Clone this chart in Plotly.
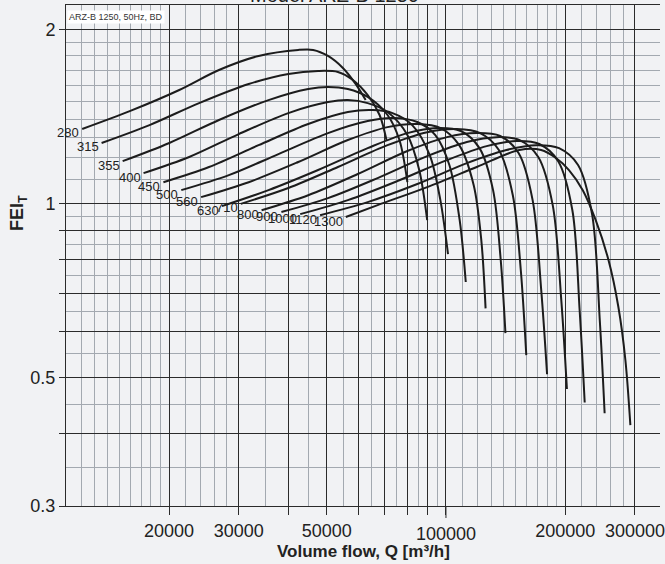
import numpy as np
import plotly.graph_objects as go

# curve labels (speed)
labels = ['280', '315', '355', '400', '450', '500', '560', '630', '710', '800', '900', '1000', '1120', '1300']

q_280 = [12070, 15910, 21220, 26730, 33650, 42380, 46210, 50380, 54930, 59200, 62700]
fei_280 = [1.346, 1.445, 1.572, 1.702, 1.800, 1.844, 1.844, 1.800, 1.716, 1.609, 1.510]

q_315 = [13510, 17850, 23810, 31770, 40000, 47560, 53370, 58200, 63450, 67990, 70770]
fei_315 = [1.273, 1.367, 1.492, 1.610, 1.676, 1.696, 1.689, 1.636, 1.541, 1.423, 1.288]

q_355 = [15270, 20030, 26730, 35650, 44900, 50380, 56540, 63450, 71200, 76300, 79910]
fei_355 = [1.184, 1.273, 1.395, 1.510, 1.578, 1.591, 1.578, 1.529, 1.423, 1.288, 1.089]

q_400 = [17240, 22480, 29990, 40000, 50380, 56540, 63450, 71200, 79910, 85610, 89660]
fei_400 = [1.129, 1.204, 1.319, 1.434, 1.498, 1.510, 1.492, 1.440, 1.314, 1.143, 0.936]

q_450 = [19350, 25220, 33650, 44900, 56540, 65300, 73290, 82200, 91000, 96800, 101200]
fei_450 = [1.089, 1.157, 1.262, 1.373, 1.440, 1.451, 1.434, 1.367, 1.213, 1.014, 0.818]

q_500 = [21470, 28310, 37770, 50380, 63450, 73290, 84660, 94000, 102000, 108300, 112200]
fei_500 = [1.055, 1.120, 1.218, 1.324, 1.389, 1.406, 1.384, 1.314, 1.166, 0.936, 0.732]

q_560 = [24090, 31770, 42380, 56540, 71200, 84660, 97000, 108000, 117500, 122800, 125900]
fei_560 = [1.026, 1.089, 1.180, 1.288, 1.356, 1.373, 1.351, 1.262, 1.076, 0.865, 0.659]

q_630 = [27200, 35650, 47560, 63450, 79910, 94950, 109000, 121500, 131500, 137500, 141300]
fei_630 = [0.990, 1.055, 1.143, 1.247, 1.324, 1.351, 1.335, 1.247, 1.055, 0.798, 0.597]

q_710 = [30340, 40000, 53370, 71200, 89660, 106500, 122000, 136000, 147500, 154500, 159500]
fei_710 = [0.999, 1.064, 1.157, 1.262, 1.329, 1.346, 1.324, 1.238, 1.034, 0.767, 0.547]

q_800 = [34240, 44900, 59890, 79910, 100600, 119600, 137000, 152500, 165500, 174000, 180000]
fei_800 = [0.974, 1.034, 1.125, 1.233, 1.303, 1.324, 1.309, 1.223, 1.014, 0.708, 0.507]

q_900 = [38420, 50380, 67220, 89660, 112900, 134200, 153500, 171000, 186000, 195500, 202000]
fei_900 = [0.967, 1.022, 1.107, 1.208, 1.278, 1.303, 1.288, 1.204, 0.994, 0.681, 0.478]

q_1000 = [42870, 56540, 75430, 100600, 126700, 150600, 172000, 192000, 208500, 217500, 224000]
fei_1000 = [0.959, 1.014, 1.094, 1.189, 1.257, 1.283, 1.268, 1.184, 0.974, 0.654, 0.453]

q_1120 = [48110, 63450, 84660, 112900, 142100, 169000, 193000, 215500, 234000, 244500, 251500]
fei_1120 = [0.955, 1.006, 1.081, 1.175, 1.238, 1.262, 1.247, 1.166, 0.955, 0.629, 0.434]

q_1300 = [55870, 67220, 89660, 119600, 153200, 173900, 189600, 204400, 221500, 238800, 257300, 272500, 283800, 292100]
fei_1300 = [0.948, 0.994, 1.068, 1.157, 1.238, 1.238, 1.199, 1.143, 1.055, 0.936, 0.798, 0.662, 0.536, 0.414]

curves = [(q_280, fei_280), (q_315, fei_315), (q_355, fei_355), (q_400, fei_400),
          (q_450, fei_450), (q_500, fei_500), (q_560, fei_560), (q_630, fei_630),
          (q_710, fei_710), (q_800, fei_800), (q_900, fei_900), (q_1000, fei_1000),
          (q_1120, fei_1120), (q_1300, fei_1300)]

# axis ticks
x_major = [20000, 30000, 40000, 50000, 60000, 70000, 80000, 90000, 100000, 200000, 300000]
x_major_text = ['20000', '30000', '', '50000', '', '', '', '', '', '200000', '300000']
x_minor = [12000, 13000, 14000, 15000, 16000, 17000, 18000, 19000,
           22000, 24000, 26000, 28000, 35000, 45000, 55000, 65000, 75000, 85000, 95000,
           110000, 120000, 130000, 140000, 150000, 160000, 170000, 180000, 190000,
           220000, 240000, 260000, 280000]
y_major = [0.3, 0.4, 0.5, 0.6, 0.7, 0.8, 0.9, 1, 2]
y_major_text = ['0.3', '', '0.5', '', '', '', '', '1', '2']
y_minor = [0.35, 0.45, 0.55, 0.65, 0.75, 0.85, 0.95,
           1.1, 1.2, 1.3, 1.4, 1.5, 1.6, 1.7, 1.8, 1.9]

dark = '#2b2b2b'
light = '#a3a9b0'
bg = '#f1f2f4'
font = 'Liberation Sans, Arial, sans-serif'

fig = go.Figure()
for (q, f), lab in zip(curves, labels):
    fig.add_trace(go.Scatter(x=q, y=f, mode='lines', line=dict(color='#1c1c1c', width=2, shape='spline', smoothing=0.9),
                             showlegend=False, hoverinfo='skip'))
    fig.add_annotation(x=np.log10(q[0]), y=np.log10(f[0]), xref='x', yref='y', text=lab, showarrow=False,
                       xanchor='right', yanchor='middle', xshift=-1, yshift=-4,
                       font=dict(family=font, size=13, color='#222'))

fig.update_xaxes(type='log', range=[np.log10(10985), np.log10(347000)],
                 tickvals=x_major, ticktext=x_major_text, ticks='outside', ticklen=8, tickcolor=dark,
                 ticklabeloverflow='allow',
                 showgrid=True, gridcolor=dark, gridwidth=1,
                 minor=dict(tickvals=x_minor, showgrid=True, gridcolor=light, gridwidth=1, ticks=''),
                 showline=True, linecolor=dark, linewidth=1, mirror=True, zeroline=False,
                 tickfont=dict(family=font, size=18, color='#222'))
fig.update_yaxes(type='log', range=[np.log10(0.3), np.log10(2.205)],
                 tickvals=y_major, ticktext=y_major_text, ticks='outside', ticklen=6, tickcolor=dark,
                 showgrid=True, gridcolor=dark, gridwidth=1,
                 minor=dict(tickvals=y_minor, showgrid=True, gridcolor=light, gridwidth=1, ticks=''),
                 showline=True, linecolor=dark, linewidth=1, zeroline=False,
                 tickfont=dict(family=font, size=18, color='#222'))

# 100000 sits a bit lower than the other labels
fig.add_annotation(x=5, y=0, xref='x', yref='paper', text='100000', showarrow=False,
                   yanchor='top', yshift=-16, font=dict(family=font, size=18, color='#222'))
fig.add_shape(type='line', x0=100000, x1=100000, xref='x', y0=0, y1=-0.024, yref='paper',
              line=dict(color=dark, width=1))

fig.add_annotation(x=0.5, y=0, xref='paper', yref='paper', text='<b>Volume flow, Q [m³/h]</b>', showarrow=False,
                   yanchor='top', yshift=-34, font=dict(family=font, size=17, color='#222'))
fig.add_annotation(x=0, y=0.585, xref='paper', yref='paper', text='<b>FEI<sub>T</sub></b>', showarrow=False,
                   textangle=-90, xanchor='center', xshift=-47, font=dict(family=font, size=18, color='#222'))
fig.add_annotation(x=0.452, y=1.02, xref='paper', yref='paper', text='Model ARZ-B 1250', showarrow=False,
                   yanchor='middle', font=dict(family=font, size=20, color='#222'))
fig.add_annotation(x=0, y=1, xref='paper', yref='paper', text='ARZ-B 1250, 50Hz, BD', showarrow=False,
                   xanchor='left', yanchor='top', xshift=1, yshift=-5, bgcolor='white', borderpad=1,
                   font=dict(family=font, size=9, color='#333'))

fig.update_layout(width=665, height=564, margin=dict(l=66, r=0, t=5, b=58),
                  paper_bgcolor=bg, plot_bgcolor=bg, showlegend=False)

fig.write_html('out.html', config={'displayModeBar': False},
               post_script="document.body.style.margin='0';")
